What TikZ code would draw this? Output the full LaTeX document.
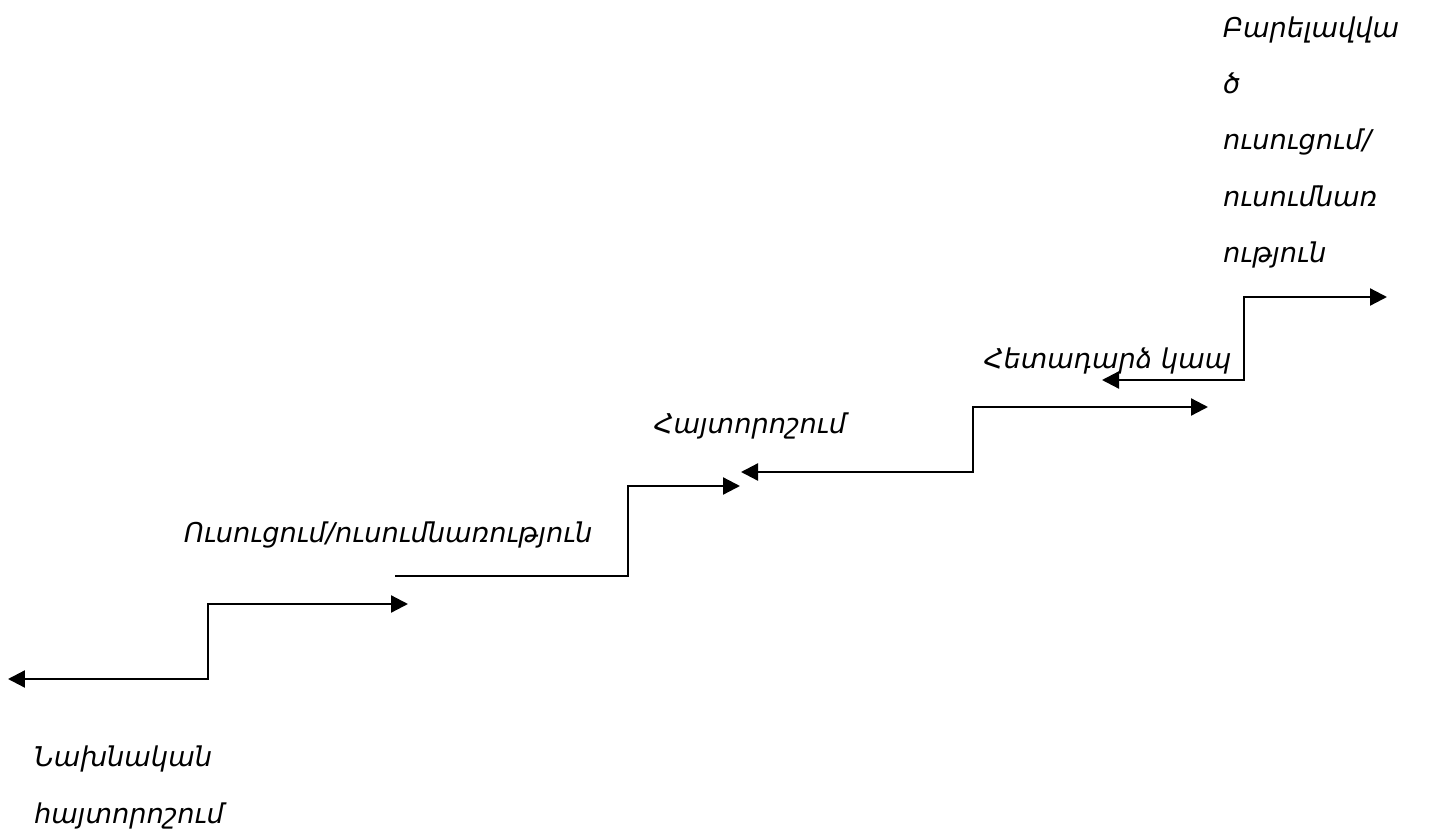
\documentclass[tikz,border=0pt]{standalone}
\usepackage{fontspec}
\newfontfamily\armfont[Script=Armenian]{DejaVu Sans}
\usetikzlibrary{arrows.meta}

\begin{document}
\begin{tikzpicture}[x=0.02cm, y=-0.02cm, line width=1.3pt,
    >={Triangle[length=0.34cm, width=0.34cm]},
    lbl/.style={anchor=base west, inner sep=0pt,
      font=\armfont\itshape\fontsize{15.5}{18}\selectfont}]
        \useasboundingbox (0, 0) rectangle (1445, 832);

        % first step
        \coordinate (a1) at (8, 679);
        \coordinate (a2) at (208, 679);
        \coordinate (a3) at (208, 604);
        \coordinate (a4) at (408, 604);
        \draw[<->] (a1) -- (a2) -- (a3) -- (a4);

        % second step
        \coordinate (b1) at (395, 576);
        \coordinate (b2) at (628, 576);
        \coordinate (b3) at (628, 486);
        \coordinate (b4) at (740, 486);
        \draw[->] (b1) -- (b2) -- (b3) -- (b4);

        % third step
        \coordinate (c1) at (741, 472);
        \coordinate (c2) at (973, 472);
        \coordinate (c3) at (973, 407);
        \coordinate (c4) at (1208, 407);
        \draw[<->] (c1) -- (c2) -- (c3) -- (c4);

        % fourth step
        \coordinate (d1) at (1102, 380);
        \coordinate (d2) at (1244, 380);
        \coordinate (d3) at (1244, 297);
        \coordinate (d4) at (1387, 297);
        \draw[<->] (d1) -- (d2) -- (d3) -- (d4);

        \node[lbl] (start1) at (33, 766) {Նախնական};
        \node[lbl] (start2) at (33, 823) {հայտորոշում};
        \node[lbl] (learn) at (183, 542) {Ուսուցում/ուսումնառություն};
        \node[lbl] (detect) at (653, 433) {Հայտորոշում};
        \node[lbl] (feedback) at (983, 368) {Հետադարձ կապ};

        \node[lbl] (better1) at (1222, 37) {Բարելավվա};
        \node[lbl] (better2) at (1222, 93) {ծ};
        \node[lbl] (better3) at (1222, 149) {ուսուցում/};
        \node[lbl] (better4) at (1222, 206) {ուսումնառ};
        \node[lbl] (better5) at (1222, 262) {ություն};
      \end{tikzpicture}
\end{document}
